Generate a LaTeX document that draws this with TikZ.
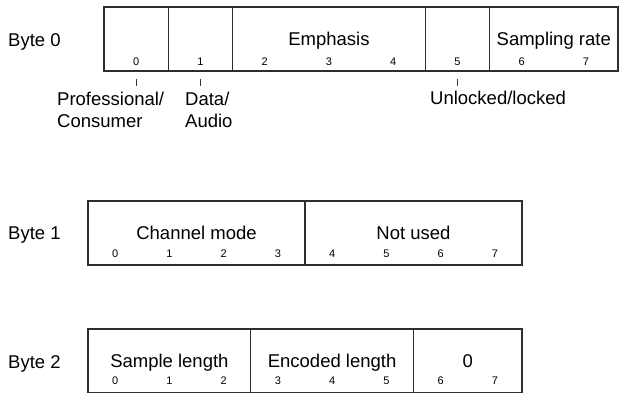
\documentclass[tikz,border=0pt]{standalone}
\usepackage{fontspec}
\setmainfont{Liberation Sans}
\usepackage{xcolor}
\definecolor{fieldLine}{HTML}{2E2E2E}
\definecolor{tickLine}{HTML}{3A3A3A}

\begin{document}
\begin{tikzpicture}[x=1pt, y=-1pt,
    field/.style={draw=fieldLine, line width=1.3pt, rectangle, inner sep=0pt,
      minimum height=64pt, text height=13.2pt, text depth=0pt,
      font=\fontsize{18.5}{22}\selectfont},
    bytelabel/.style={anchor=west, inner sep=0pt, text height=13.2pt, text depth=0pt,
      font=\fontsize{18.5}{22}\selectfont},
    bitnum/.style={inner sep=0pt, text height=7.9pt, text depth=0pt,
      font=\fontsize{11}{13}\selectfont},
    flaglabel/.style={anchor=north west, inner sep=0pt, align=left,
      font=\fontsize{18.5}{22}\selectfont},
    tick/.style={draw=tickLine, line width=0.8pt}]
  \useasboundingbox (0,0) rectangle (619,392);
  \node[bytelabel] (byte0) at (8,39.5) {Byte 0};
  \node[field, minimum width=64.25pt] (pc) at (136.1,39) {};
  \node[field, minimum width=64.25pt] (da) at (200.4,39) {};
  \node[field, minimum width=192.75pt] (emph) at (328.9,39) {Emphasis};
  \node[field, minimum width=64.25pt] (lock) at (457.4,39) {};
  \node[field, minimum width=128.5pt] (rate) at (553.75,39) {Sampling rate};
  \node[bitnum] (b0n0) at (136.1,62) {0};
  \node[bitnum] (b0n1) at (200.4,62) {1};
  \node[bitnum] (b0n2) at (264.6,62) {2};
  \node[bitnum] (b0n3) at (328.9,62) {3};
  \node[bitnum] (b0n4) at (393.1,62) {4};
  \node[bitnum] (b0n5) at (457.4,62) {5};
  \node[bitnum] (b0n6) at (521.6,62) {6};
  \node[bitnum] (b0n7) at (585.9,62) {7};
  \node[flaglabel] (pclabel) at (57,91.5) {Professional/\\Consumer};
  \node[flaglabel] (dalabel) at (185,91.5) {Data/\\Audio};
  \node[flaglabel] (locklabel) at (430,91) {Unlocked/locked};
  \draw[tick] ([yshift=-7pt]pc.south) -- ([yshift=-14pt]pc.south);
  \draw[tick] ([yshift=-7pt]da.south) -- ([yshift=-14pt]da.south);
  \draw[tick] ([yshift=-7pt]lock.south) -- ([yshift=-14pt]lock.south);

  \node[bytelabel] (byte1) at (8,233) {Byte 1};
  \node[field, minimum width=217pt] (chmode) at (196.5,233) {Channel mode};
  \node[field, minimum width=217pt] (unused) at (413.5,233) {Not used};
  \node[bitnum] (b1n0) at (115.1,253.5) {0};
  \node[bitnum] (b1n1) at (169.4,253.5) {1};
  \node[bitnum] (b1n2) at (223.6,253.5) {2};
  \node[bitnum] (b1n3) at (277.9,253.5) {3};
  \node[bitnum] (b1n4) at (332.1,253.5) {4};
  \node[bitnum] (b1n5) at (386.4,253.5) {5};
  \node[bitnum] (b1n6) at (440.6,253.5) {6};
  \node[bitnum] (b1n7) at (494.9,253.5) {7};

  \node[bytelabel] (byte2) at (8,361.5) {Byte 2};
  \node[field, minimum width=162.75pt] (slen) at (169.4,361) {Sample length};
  \node[field, minimum width=162.75pt] (elen) at (332.1,361) {Encoded length};
  \node[field, minimum width=108.5pt] (zero) at (467.75,361) {0};
  \node[bitnum] (b2n0) at (115.1,381) {0};
  \node[bitnum] (b2n1) at (169.4,381) {1};
  \node[bitnum] (b2n2) at (223.6,381) {2};
  \node[bitnum] (b2n3) at (277.9,381) {3};
  \node[bitnum] (b2n4) at (332.1,381) {4};
  \node[bitnum] (b2n5) at (386.4,381) {5};
  \node[bitnum] (b2n6) at (440.6,381) {6};
  \node[bitnum] (b2n7) at (494.9,381) {7};
\end{tikzpicture}
\end{document}
